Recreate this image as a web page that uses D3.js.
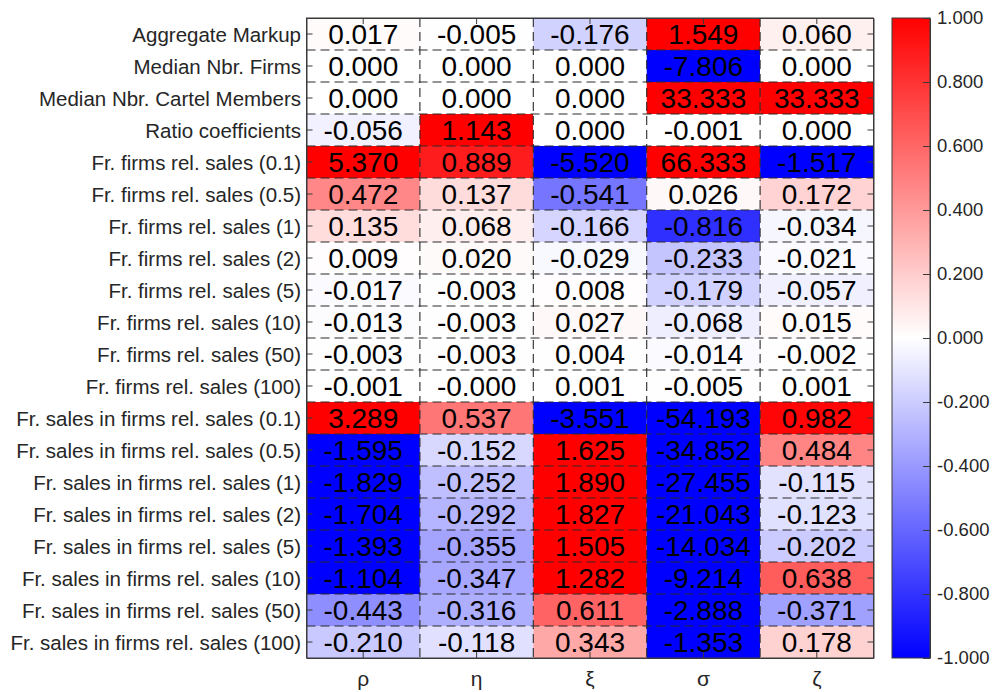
<!DOCTYPE html>
<html>
<head>
<meta charset="utf-8">
<script src="https://cdn.jsdelivr.net/npm/d3@7"></script>
<style>
  html, body { margin: 0; padding: 0; background: #fff; }
  svg { display: block; font-family: "Liberation Sans", Arial, sans-serif; }
</style>
</head>
<body>
<svg id="chart" width="993" height="692"></svg>
<script>
// Row labels (outcomes) and column labels (parameters)
const rowLabels = [
  "Aggregate Markup",
  "Median Nbr. Firms",
  "Median Nbr. Cartel Members",
  "Ratio coefficients",
  "Fr. firms rel. sales (0.1)",
  "Fr. firms rel. sales (0.5)",
  "Fr. firms rel. sales (1)",
  "Fr. firms rel. sales (2)",
  "Fr. firms rel. sales (5)",
  "Fr. firms rel. sales (10)",
  "Fr. firms rel. sales (50)",
  "Fr. firms rel. sales (100)",
  "Fr. sales in firms rel. sales (0.1)",
  "Fr. sales in firms rel. sales (0.5)",
  "Fr. sales in firms rel. sales (1)",
  "Fr. sales in firms rel. sales (2)",
  "Fr. sales in firms rel. sales (5)",
  "Fr. sales in firms rel. sales (10)",
  "Fr. sales in firms rel. sales (50)",
  "Fr. sales in firms rel. sales (100)"
];
const colLabels = ["ρ", "η", "ξ", "σ", "ζ"];

// One array per parameter column, values listed top row to bottom row
const rhoValues = [0.017, 0.000, 0.000, -0.056, 5.370, 0.472, 0.135, 0.009, -0.017, -0.013, -0.003, -0.001,
                   3.289, -1.595, -1.829, -1.704, -1.393, -1.104, -0.443, -0.210];
const etaValues = [-0.005, 0.000, 0.000, 1.143, 0.889, 0.137, 0.068, 0.020, -0.003, -0.003, -0.003, -0.0004,
                   0.537, -0.152, -0.252, -0.292, -0.355, -0.347, -0.316, -0.118];
const xiValues = [-0.176, 0.000, 0.000, 0.000, -5.520, -0.541, -0.166, -0.029, 0.008, 0.027, 0.004, 0.001,
                  -3.551, 1.625, 1.890, 1.827, 1.505, 1.282, 0.611, 0.343];
const sigmaValues = [1.549, -7.806, 33.333, -0.001, 66.333, 0.026, -0.816, -0.233, -0.179, -0.068, -0.014, -0.005,
                     -54.193, -34.852, -27.455, -21.043, -14.034, -9.214, -2.888, -1.353];
const zetaValues = [0.060, 0.000, 33.333, 0.000, -1.517, 0.172, -0.034, -0.021, -0.057, 0.015, -0.002, 0.001,
                    0.982, 0.484, -0.115, -0.123, -0.202, 0.638, -0.371, 0.178];

const colorbarTicks = [-1.0, -0.8, -0.6, -0.4, -0.2, 0.0, 0.2, 0.4, 0.6, 0.8, 1.0];

const columns = [rhoValues, etaValues, xiValues, sigmaValues, zetaValues];
const cells = [];
columns.forEach((vals, ci) => vals.forEach((v, ri) => cells.push({ row: rowLabels[ri], col: colLabels[ci], value: v })));

// Geometry
const plot = { left: 306.5, top: 18, right: 873.5, bottom: 658 };
const cbar = { left: 892, right: 930, top: 18, bottom: 658 };
const textColor = "#262626";
const axisColor = "#3a3a3a";

const svg = d3.select("#chart");

const x = d3.scaleBand().domain(colLabels).range([plot.left, plot.right]).padding(0);
const y = d3.scaleBand().domain(rowLabels).range([plot.top, plot.bottom]).padding(0);

// Diverging blue-white-red map, saturating at +/-1
const color = d3.scaleLinear()
  .domain([-1, 0, 1])
  .range(["#0000ff", "#ffffff", "#ff0000"])
  .clamp(true);

// Cells
svg.append("g")
  .selectAll("rect")
  .data(cells)
  .join("rect")
  .attr("x", d => x(d.col))
  .attr("y", d => y(d.row))
  .attr("width", x.bandwidth())
  .attr("height", y.bandwidth())
  .attr("fill", d => color(d.value));

// Dashed grid on cell boundaries
const grid = svg.append("g")
  .attr("stroke", "#2a2a2a")
  .attr("stroke-width", 1.1)
  .attr("stroke-dasharray", "9,5");
grid.selectAll("line.h")
  .data(rowLabels.slice(1))
  .join("line")
  .attr("class", "h")
  .attr("x1", plot.left).attr("x2", plot.right)
  .attr("y1", d => y(d)).attr("y2", d => y(d));
grid.selectAll("line.v")
  .data(colLabels.slice(1))
  .join("line")
  .attr("class", "v")
  .attr("y1", plot.top).attr("y2", plot.bottom)
  .attr("x1", d => x(d)).attr("x2", d => x(d));

// Cell value labels
svg.append("g")
  .selectAll("text")
  .data(cells)
  .join("text")
  .attr("x", d => x(d.col) + x.bandwidth() / 2)
  .attr("y", d => y(d.row) + y.bandwidth() / 2)
  .attr("dy", "0.36em")
  .attr("text-anchor", "middle")
  .attr("font-size", "28px")
  .attr("fill", "#000")
  .text(d => d.value.toFixed(3));

function styleAxis(g) {
  g.select(".domain").attr("stroke", axisColor);
  g.selectAll(".tick line").attr("stroke", axisColor);
  g.selectAll(".tick text").attr("fill", textColor).attr("font-family", "Liberation Sans, Arial, sans-serif");
}

// Axes with inward ticks on all four sides
svg.append("g")
  .attr("transform", `translate(${plot.left},0)`)
  .call(d3.axisLeft(y).tickSizeInner(-6).tickSizeOuter(0).tickPadding(5.5))
  .call(styleAxis)
  .call(g => g.selectAll(".tick text").attr("font-size", "20.5px").attr("dy", "0.38em"));

svg.append("g")
  .attr("transform", `translate(${plot.right},0)`)
  .call(d3.axisRight(y).tickSizeInner(-6).tickSizeOuter(0).tickFormat(""))
  .call(styleAxis);

svg.append("g")
  .attr("transform", `translate(0,${plot.top})`)
  .call(d3.axisTop(x).tickSizeInner(-6).tickSizeOuter(0).tickFormat(""))
  .call(styleAxis);

svg.append("g")
  .attr("transform", `translate(0,${plot.bottom})`)
  .call(d3.axisBottom(x).tickSizeInner(-6).tickSizeOuter(0).tickPadding(13))
  .call(styleAxis)
  .call(g => g.selectAll(".tick text").attr("font-size", "21px"));

// Colorbar
const cScale = d3.scaleLinear().domain([-1, 1]).range([cbar.bottom, cbar.top]);
const defs = svg.append("defs");
const grad = defs.append("linearGradient")
  .attr("id", "cbar-grad")
  .attr("x1", 0).attr("y1", 1).attr("x2", 0).attr("y2", 0);
grad.selectAll("stop")
  .data([-1, 0, 1])
  .join("stop")
  .attr("offset", d => `${(d + 1) * 50}%`)
  .attr("stop-color", d => color(d));

svg.append("rect")
  .attr("x", cbar.left)
  .attr("y", cbar.top)
  .attr("width", cbar.right - cbar.left)
  .attr("height", cbar.bottom - cbar.top)
  .attr("fill", "url(#cbar-grad)");

svg.append("g")
  .attr("transform", `translate(${cbar.right},0)`)
  .call(d3.axisRight(cScale).tickValues(colorbarTicks).tickSizeInner(-7).tickSizeOuter(0).tickPadding(7)
    .tickFormat(d => d.toFixed(3)))
  .call(styleAxis)
  .call(g => g.selectAll(".tick text").attr("font-size", "18.5px"));

svg.append("rect")
  .attr("x", cbar.left)
  .attr("y", cbar.top)
  .attr("width", cbar.right - cbar.left)
  .attr("height", cbar.bottom - cbar.top)
  .attr("fill", "none")
  .attr("stroke", axisColor);

// Plot frame
svg.append("rect")
  .attr("x", plot.left)
  .attr("y", plot.top)
  .attr("width", plot.right - plot.left)
  .attr("height", plot.bottom - plot.top)
  .attr("fill", "none")
  .attr("stroke", axisColor);
</script>
</body>
</html>
